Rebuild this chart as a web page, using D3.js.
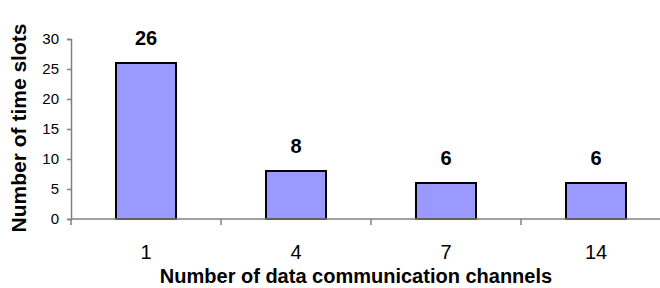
<!DOCTYPE html>
<html>
<head>
<meta charset="utf-8">
<script src="https://cdn.jsdelivr.net/npm/d3@7"></script>
<style>
  body { margin: 0; background: #fff; }
  svg { display: block; font-family: "Liberation Sans", Arial, sans-serif; }
</style>
</head>
<body>
<div id="chart"></div>
<script>
// data
const channels = ["1", "4", "7", "14"];
const timeSlots = [26, 8, 6, 6];
const yTicks = [0, 5, 10, 15, 20, 25, 30];

const width = 660, height = 288;
const margin = { top: 39, right: -11, bottom: 69, left: 71 };
const innerW = width - margin.left - margin.right;
const innerH = height - margin.top - margin.bottom;

const svg = d3.select("#chart").append("svg")
  .attr("width", width)
  .attr("height", height);

const g = svg.append("g")
  .attr("transform", "translate(" + margin.left + "," + margin.top + ")");

const x = d3.scaleBand()
  .domain(channels)
  .range([0, innerW])
  .paddingInner(0.6)
  .paddingOuter(0.3);

const y = d3.scaleLinear()
  .domain([0, 30])
  .range([innerH, 0]);

// bars
g.selectAll("rect.bar")
  .data(timeSlots)
  .enter()
  .append("rect")
  .attr("class", "bar")
  .attr("x", (d, i) => x(channels[i]))
  .attr("y", d => y(d))
  .attr("width", x.bandwidth())
  .attr("height", d => innerH - y(d))
  .style("fill", "#9999ff")
  .style("stroke", "#000")
  .style("stroke-width", 2);

// value labels
g.selectAll("text.val")
  .data(timeSlots)
  .enter()
  .append("text")
  .attr("class", "val")
  .attr("x", (d, i) => x(channels[i]) + x.bandwidth() / 2)
  .attr("y", d => y(d) - 18)
  .attr("text-anchor", "middle")
  .style("font-size", "20px")
  .style("font-weight", "bold")
  .text(d => d);

// y axis
const yAxis = g.append("g")
  .attr("font-size", 15)
  .call(d3.axisLeft(y).tickValues(yTicks).tickSize(4).tickPadding(8));
yAxis.attr("font-size", 15).attr("font-family", null);
yAxis.select(".domain").attr("stroke", "#808080").attr("stroke-width", 1.5);
yAxis.selectAll(".tick line").attr("stroke", "#808080").attr("stroke-width", 1.5);
yAxis.selectAll(".tick text").attr("fill", "#000");

// x axis: ticks between categories
const step = x.step();
const xAxis = g.append("g")
  .attr("transform", "translate(0," + innerH + ")");
xAxis.append("line")
  .attr("x1", 0).attr("x2", innerW)
  .attr("stroke", "#808080").attr("stroke-width", 1.5);
xAxis.selectAll("line.sep")
  .data(channels)
  .enter()
  .append("line")
  .attr("class", "sep")
  .attr("x1", (d, i) => i * step)
  .attr("x2", (d, i) => i * step)
  .attr("y1", 0).attr("y2", 6)
  .attr("stroke", "#808080").attr("stroke-width", 1.5);
xAxis.selectAll("text")
  .data(channels)
  .enter()
  .append("text")
  .attr("x", d => x(d) + x.bandwidth() / 2)
  .attr("y", 40)
  .attr("text-anchor", "middle")
  .style("font-size", "20px")
  .text(d => d);

// axis titles
svg.append("text")
  .attr("x", 356)
  .attr("y", 283)
  .attr("text-anchor", "middle")
  .style("font-size", "20px")
  .style("font-weight", "bold")
  .text("Number of data communication channels");

svg.append("text")
  .attr("transform", "translate(26,128) rotate(-90)")
  .attr("text-anchor", "middle")
  .style("font-size", "21px")
  .style("font-weight", "bold")
  .text("Number of time slots");
</script>
</body>
</html>
